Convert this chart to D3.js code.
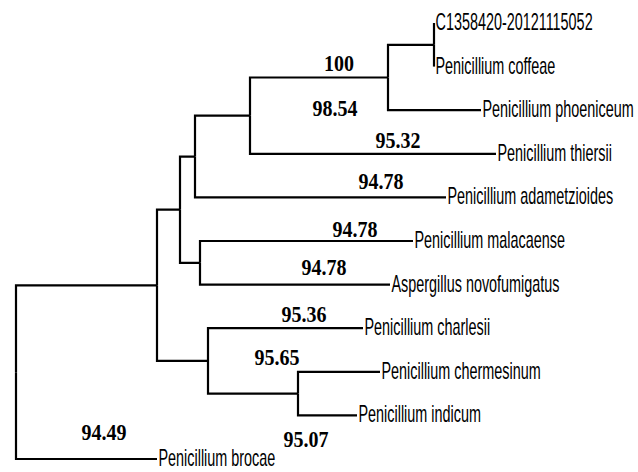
<!DOCTYPE html>
<html>
<head>
<meta charset="utf-8">
<script src="https://cdn.jsdelivr.net/npm/d3@7"></script>
<style>
  html, body { margin: 0; padding: 0; background: #fff; }
  svg { display: block; }
</style>
</head>
<body>
<div id="chart"></div>
<script>
// ---- Tree data (preorder) ----
const nodeIds = ["root","n1","n2","n3","n4","n5","n6",
  "C1358420-20121115052","Penicillium coffeae","Penicillium phoeniceum",
  "Penicillium thiersii","Penicillium adametzioides","n7",
  "Penicillium malacaense","Aspergillus novofumigatus","n8",
  "Penicillium charlesii","n9","Penicillium chermesinum","Penicillium indicum",
  "Penicillium brocae"];
const parentIds = ["", "root","n1","n2","n3","n4","n5",
  "n6","n6","n5",
  "n4","n3","n2",
  "n7","n7","n1",
  "n8","n8","n9","n9",
  "root"];
const branchLengths = [0, 0.141,0.023,0.015,0.055,0.138,0.046,
  0,0,0.093,
  0.246,0.251,0.020,
  0.213,0.190,0.051,
  0.155,0.090,0.082,0.059,
  0.141];

// ---- Support values (anchored in tree-distance / leaf-row coordinates) ----
const supportValues = ["100","98.54","95.32","94.78","94.78","94.78","95.36","95.65","95.07","94.49"];
const supportDist   = [0.323,0.319,0.382,0.365,0.339,0.308,0.288,0.261,0.290,0.088];
const supportRow    = [1.100,2.130,2.865,3.805,4.905,5.775,6.855,7.840,9.725,9.565];

const W = 638, H = 472;
const svg = d3.select("#chart").append("svg").attr("width", W).attr("height", H);

const table = nodeIds.map((id, i) => ({id, parent: parentIds[i] || null, len: branchLengths[i]}));
const root = d3.stratify().id(d => d.id).parentId(d => d.parent)(table);

// cumulative distance
root.eachBefore(n => { n.dist = n.parent ? n.parent.dist + n.data.len : 0; });
const leaves = root.leaves();
const nLeaves = leaves.length;

const x = d3.scaleLinear().domain([0, 0.48]).range([16, 496]);
const y = d3.scaleLinear().domain([0, nLeaves - 1]).range([23, 459]);

leaves.forEach((l, i) => { l.row = i; });
root.eachAfter(n => {
  if (n.children) {
    const c = n.children;
    n.row = (c[0].row + c[c.length - 1].row) / 2;
  }
});

// branches (elbow)
svg.append("g")
  .attr("fill", "none").attr("stroke", "#000").attr("stroke-width", 2.2)
  .selectAll("path")
  .data(root.descendants().filter(d => d.parent))
  .join("path")
  .attr("d", d => `M${x(d.parent.dist)},${y(d.parent.row)}V${y(d.row)}H${x(d.dist)}`);

// tip labels
svg.append("g")
  .selectAll("text")
  .data(leaves)
  .join("text")
  .attr("transform", d => `translate(${x(d.dist) + 1.5},${y(d.row) + 7}) scale(0.6,1)`)
  .attr("font-family", "'Liberation Sans', Arial, sans-serif")
  .attr("font-size", 24)
  .attr("fill", "#000")
  .text(d => d.id);

// support values
svg.append("g")
  .selectAll("text")
  .data(supportValues.map((v, i) => ({v, d: supportDist[i], r: supportRow[i]})))
  .join("text")
  .attr("transform", d => `translate(${x(d.d)},${y(d.r)}) scale(1,1.18)`)
  .attr("text-anchor", "middle")
  .attr("font-family", "'Liberation Serif', 'Times New Roman', serif")
  .attr("font-weight", "bold")
  .attr("font-size", 20)
  .attr("fill", "#000")
  .text(d => d.v);
</script>
</body>
</html>
